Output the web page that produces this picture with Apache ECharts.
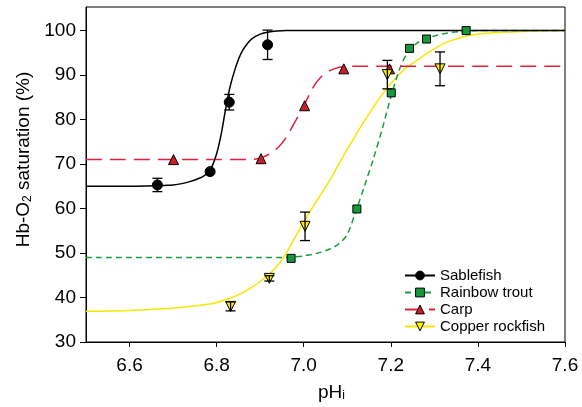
<!DOCTYPE html>
<html><head><meta charset="utf-8">
<script src="https://cdn.jsdelivr.net/npm/echarts@6/dist/echarts.min.js"></script>
<style>html,body{margin:0;padding:0;background:#fff}#c{width:582px;height:407px}</style>
</head><body><div id="c"></div>
<script>
const xTicks = [6.6, 6.8, 7.0, 7.2, 7.4, 7.6];
const yTicks = [30, 40, 50, 60, 70, 80, 90, 100];
const seriesNames = ['Sablefish', 'Rainbow trout', 'Carp', 'Copper rockfish'];

// measured points [pHi, saturation]
const sablefishPts = [[6.664, 65.3], [6.785, 68.3], [6.829, 83.9], [6.917, 96.8]];
const sablefishErr = [1.5, 0.4, 1.75, 3.3];
const troutPts = [[6.971, 48.8], [7.122, 59.9], [7.201, 86.0], [7.243, 96.0], [7.282, 98.1], [7.373, 100.0]];
const carpPts = [[6.701, 71.0], [6.902, 71.2], [7.002, 83.1], [7.092, 91.4], [7.197, 91.4]];
const copperPts = [[6.832, 38.0], [6.921, 44.3], [7.003, 56.0], [7.192, 90.1], [7.313, 91.4]];
const copperErr = [1.0, 0.6, 3.2, 3.2, 3.8];

// fitted curves
const sablefishCurve = [[6.5, 65], [6.6, 65], [6.64, 65.05], [6.66, 65.1], [6.68, 65.2], [6.70, 65.3], [6.72, 65.6], [6.74, 66.1], [6.76, 66.8], [6.77, 67.3], [6.78, 68.0], [6.79, 69.6], [6.80, 72.3], [6.81, 76.5], [6.82, 82.0], [6.83, 87.0], [6.84, 90.6], [6.85, 93.5], [6.86, 95.6], [6.87, 97.0], [6.88, 98.1], [6.90, 99.2], [6.92, 99.7], [6.94, 99.9], [6.96, 100], [7.0, 100], [7.6, 100]];
const troutCurve = [[6.5, 49], [6.9, 49], [6.94, 49], [6.96, 49.05], [6.98, 49.15], [7.00, 49.35], [7.02, 49.7], [7.04, 50.2], [7.06, 50.9], [7.08, 52.0], [7.10, 54.2], [7.12, 59.5], [7.14, 65.2], [7.16, 71.2], [7.18, 77.8], [7.20, 85.0], [7.22, 91.3], [7.24, 95.3], [7.26, 97.2], [7.28, 98.2], [7.30, 98.8], [7.32, 99.3], [7.34, 99.6], [7.36, 99.8], [7.40, 100], [7.6, 100]];
const carpCurve = [[6.5, 71], [6.8, 71], [6.86, 71], [6.88, 71.05], [6.90, 71.3], [6.92, 72.2], [6.94, 73.6], [6.96, 76], [6.98, 79.5], [7.00, 83], [7.02, 87], [7.04, 89.6], [7.06, 91], [7.08, 91.7], [7.10, 91.9], [7.12, 92], [7.2, 92], [7.6, 92]];
const copperCurve = [[6.5, 36.9], [6.6, 37.1], [6.7, 37.6], [6.74, 38.0], [6.78, 38.5], [6.80, 38.9], [6.82, 39.5], [6.84, 40.2], [6.86, 41.1], [6.88, 42.2], [6.90, 43.6], [6.92, 45.2], [6.94, 47.2], [6.96, 50.0], [6.98, 53.5], [7.00, 57.0], [7.02, 60.2], [7.04, 63.3], [7.06, 66.4], [7.08, 69.9], [7.10, 73.3], [7.12, 76.6], [7.14, 79.8], [7.16, 82.8], [7.18, 85.6], [7.20, 88.1], [7.22, 90.2], [7.24, 92.0], [7.26, 93.3], [7.28, 94.7], [7.30, 95.9], [7.32, 97.0], [7.34, 97.8], [7.38, 98.9], [7.42, 99.4], [7.5, 99.8], [7.6, 100]];

const FONT = '"Liberation Sans", Arial, Helvetica, sans-serif';
const C = {
  black: '#000000',
  greenLine: '#1a9c46', greenFill: '#149a3c',
  redLine: '#e2203e', redFill: '#c8202a',
  yellowLine: '#f5e800', yellowFill: '#fff000'
};

function withErr(pts, errs) { return pts.map((p, i) => [p[0], p[1], errs[i]]); }

function errRender(params, api) {
  const x = api.value(0), y = api.value(1), e = api.value(2);
  const t = api.coord([x, y + e]);
  const b = api.coord([x, y - e]);
  const hw = 5;
  const st = { stroke: '#000', lineWidth: 1.3 };
  return { type: 'group', children: [
    { type: 'line', shape: { x1: t[0], y1: t[1], x2: b[0], y2: b[1] }, style: st },
    { type: 'line', shape: { x1: t[0] - hw, y1: t[1], x2: t[0] + hw, y2: t[1] }, style: st },
    { type: 'line', shape: { x1: b[0] - hw, y1: b[1], x2: b[0] + hw, y2: b[1] }, style: st }
  ]};
}

function curve(name, data, color, type, symbol, rot, fill) {
  return {
    name, type: 'line', data, smooth: 0.3,
    showSymbol: false, symbol, symbolRotate: rot,
    lineStyle: { color, width: 1.5, type },
    itemStyle: { color: fill, borderColor: '#000', borderWidth: 1 },
    z: 2, silent: true
  };
}
function pts(name, data, symbol, size, rot, fill) {
  return {
    name, type: 'scatter', data, symbol, symbolSize: size, symbolRotate: rot,
    itemStyle: { color: fill, borderColor: '#000', borderWidth: 1, opacity: 1 },
    z: 3, silent: true
  };
}

const chart = echarts.init(document.getElementById('c'), null, { renderer: 'canvas' });
chart.setOption({
  animation: false,
  backgroundColor: '#fff',
  grid: { left: 86, right: 17, top: 7, bottom: 64, show: true, borderColor: '#000', borderWidth: 1, backgroundColor: 'transparent' },
  xAxis: {
    type: 'value', min: 6.5, max: 7.6,
    name: '{t|pH}{s|i}', nameLocation: 'middle', nameGap: 37,
    nameTextStyle: { padding: [0, 0, 0, 12], rich: {
      t: { fontSize: 19, fontFamily: FONT, color: '#000', lineHeight: 23, verticalAlign: 'bottom' },
      s: { fontSize: 12, fontFamily: FONT, color: '#000', lineHeight: 16, verticalAlign: 'bottom' } } },
    axisLine: { show: true, lineStyle: { color: '#000', width: 1 } },
    axisTick: { show: true, length: 5, customValues: xTicks, lineStyle: { color: '#000' } },
    axisLabel: { customValues: xTicks, formatter: v => v.toFixed(1), fontSize: 19, fontFamily: FONT, color: '#000', margin: 14 },
    splitLine: { show: false }
  },
  yAxis: {
    type: 'value', min: 30, max: 105.3,
    name: '{t|Hb-O}{s|2}{t| saturation (%)}', nameLocation: 'middle', nameGap: 50,
    nameTextStyle: { padding: [0, 0, 0, 30], rich: {
      t: { fontSize: 19, fontFamily: FONT, color: '#000', lineHeight: 23, verticalAlign: 'bottom' },
      s: { fontSize: 12, fontFamily: FONT, color: '#000', lineHeight: 16, verticalAlign: 'bottom' } } },
    axisLine: { show: true, lineStyle: { color: '#000', width: 1 } },
    axisTick: { show: true, length: 6, customValues: yTicks, lineStyle: { color: '#000' } },
    axisLabel: { customValues: yTicks, fontSize: 19, fontFamily: FONT, color: '#000', margin: 10 },
    splitLine: { show: false }
  },
  legend: {
    orient: 'vertical', left: 404, top: 267, padding: 0,
    itemWidth: 30, itemHeight: 11, itemGap: 0,
    textStyle: { fontSize: 15, fontFamily: FONT, color: '#000', lineHeight: 17 },
    data: [
      { name: seriesNames[0], itemStyle: { color: C.black, borderColor: '#000', borderWidth: 1 } },
      { name: seriesNames[1], itemStyle: { color: C.greenFill, borderColor: '#000', borderWidth: 1 } },
      { name: seriesNames[2], itemStyle: { color: C.redFill, borderColor: '#000', borderWidth: 1 } },
      { name: seriesNames[3], itemStyle: { color: C.yellowFill, borderColor: '#000', borderWidth: 1 } }
    ]
  },
  series: [
    curve(seriesNames[3], copperCurve, C.yellowLine, 'solid', 'triangle', 180, C.yellowFill),
    curve(seriesNames[1], troutCurve, C.greenLine, [6, 4], 'rect', 0, C.greenFill),
    curve(seriesNames[2], carpCurve, C.redLine, [16, 8], 'triangle', 0, C.redFill),
    curve(seriesNames[0], sablefishCurve, C.black, 'solid', 'circle', 0, C.black),
    pts('sablefish data', sablefishPts, 'circle', 10, 0, C.black),
    pts('trout data', troutPts, 'rect', 8, 0, C.greenFill),
    pts('carp data', carpPts, 'triangle', 10, 0, C.redFill),
    pts('copper data', copperPts, 'triangle', 10, 180, C.yellowFill),
    { name: 'sablefish err', type: 'custom', renderItem: errRender, data: withErr(sablefishPts, sablefishErr), encode: { x: 0, y: 1 }, z: 4, silent: true },
    { name: 'copper err', type: 'custom', renderItem: errRender, data: withErr(copperPts, copperErr), encode: { x: 0, y: 1 }, z: 4, silent: true }
  ]
});
</script>
</body></html>
